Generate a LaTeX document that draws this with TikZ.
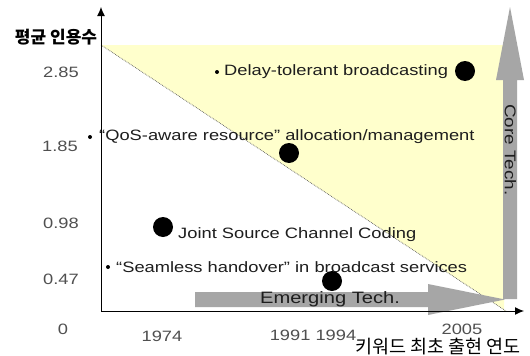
\documentclass[tikz,border=0pt]{standalone}
\usepackage{fontspec}
\setmainfont{Liberation Sans}[FakeStretch=1.22]
\newfontfamily\krfont{Noto Sans CJK KR}
\usetikzlibrary{arrows.meta}
\definecolor{paleyellow}{HTML}{FFFFCC}
\definecolor{arrowgray}{HTML}{A6A6A6}
\definecolor{ticktext}{HTML}{505050}
\definecolor{bodytext}{HTML}{1E1E1E}

\begin{document}
\begin{tikzpicture}[x=1pt,y=-1pt,
  lbl/.style={inner sep=0pt, anchor=west, font=\fontsize{15}{18}\selectfont, text=bodytext},
  tick/.style={inner sep=0pt, font=\fontsize{15}{18}\selectfont, text=ticktext},
  bigdot/.style={circle, fill=black, minimum size=20pt, inner sep=0pt},
  smalldot/.style={circle, fill=black, minimum size=4pt, inner sep=0pt},
  axisline/.style={line width=1pt, -{Latex[length=9pt,width=8pt]}},
  techarrow/.style={fill=arrowgray, draw=none}]

\useasboundingbox (0,0) rectangle (530,356);
\fill[white] (0,0) rectangle (530,356);

% key points of the frame
\coordinate (O) at (101,311);
\coordinate (ytip) at (101,7);
\coordinate (xtip) at (524,311);
\coordinate (ytop) at (101,45);
\coordinate (diagend) at (506,311);

% region of core technologies
\fill[paleyellow] (ytop) -- (504,45) -- (504,311) -- (diagend) -- cycle;
\draw[gray!70!black, densely dotted, line width=0.7pt] (ytop) -- (diagend);

% broad gray arrows
\fill[techarrow] (195,292) -- (428,292) -- (428,284) -- (505,299.5) -- (428,315) -- (428,307) -- (195,307) -- cycle;
\fill[techarrow] (503,299) -- (503,80) -- (496,80) -- (510,7) -- (524,80) -- (517,80) -- (517,299) -- cycle;
\node[font=\fontsize{16.5}{19}\selectfont, text=bodytext, inner sep=0pt] (emerging) at (330,299) {Emerging Tech.};
\node[font=\fontsize{15.5}{18}\selectfont, text=bodytext, inner sep=0pt, rotate=-90] (core) at (510.5,150) {Core Tech.};

% axes
\draw[axisline] (O) -- (ytip);
\draw[axisline] (O) -- (xtip);

% axis titles
\node[font=\krfont\bfseries\fontsize{17}{20}\selectfont, inner sep=0pt] (ytitle) at (56,37) {평균 인용수};
\node[font=\krfont\fontsize{18.5}{21}\selectfont, inner sep=0pt] (xtitle) at (438,347) {키워드 최초 출현 연도};

% tick labels
\node[tick] (y285) at (61,72) {2.85};
\node[tick] (y185) at (60,146) {1.85};
\node[tick] (y098) at (61,223) {0.98};
\node[tick] (y047) at (61,279) {0.47};
\node[tick] (y0) at (63,329) {0};
\node[tick] (x1974) at (162,336) {1974};
\node[tick] (x1991) at (313,335) {1991 1994};
\node[tick] (x2005) at (462,329) {2005};

% keywords
\node[smalldot] (b1) at (217,72) {};
\node[lbl] (t1) at (224,72) {Delay-tolerant broadcasting};
\node[bigdot] (d1) at (465,71) {};

\node[smalldot] (b2) at (90,137) {};
\node[lbl] (t2) at (99,137) {“QoS-aware resource” allocation/management};
\node[bigdot] (d2) at (289,153) {};

\node[bigdot] (d3) at (163,227) {};
\node[lbl] (t3) at (178,235) {Joint Source Channel Coding};

\node[smalldot] (b4) at (108,267) {};
\node[lbl] (t4) at (116,267) {“Seamless handover” in broadcast services};
\node[bigdot] (d4) at (332,281) {};
\end{tikzpicture}
\end{document}
